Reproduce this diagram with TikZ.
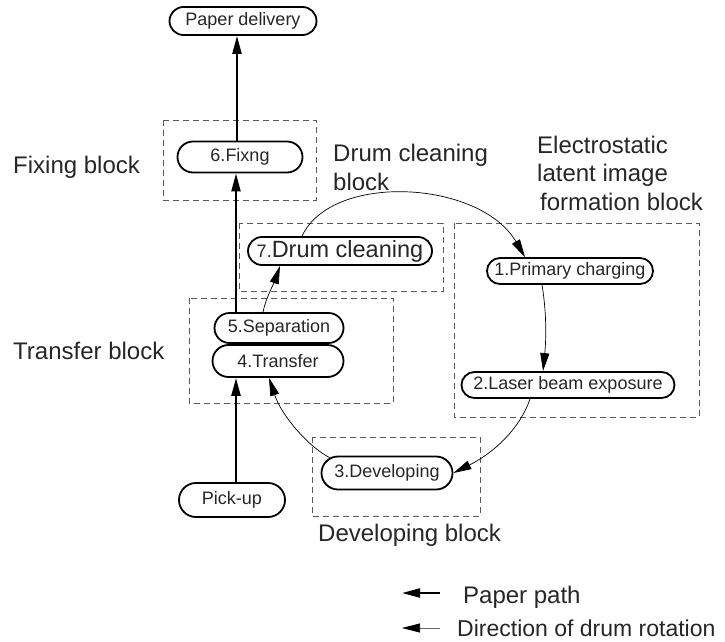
\documentclass[tikz,border=0pt]{standalone}
\usepackage{fontspec}
\setmainfont{Liberation Sans}
\usetikzlibrary{shapes.misc,arrows.meta}

\begin{document}
\begin{tikzpicture}[x=1pt,y=1pt,
    etapa/.style={draw, rounded rectangle, line width=1.8pt, inner xsep=0pt, inner ysep=0pt,
      font=\fontsize{18}{21}\selectfont, text=black!85},
    bloco/.style={draw=black!65, line width=0.9pt, dash pattern=on 6pt off 4pt},
    rotulo/.style={font=\fontsize{24}{28.5}\selectfont, text=black!85, align=left, inner sep=0pt},
    papel/.style={line width=2.2pt, -{Triangle[length=18pt,width=9pt]}},
    tambor/.style={line width=0.7pt, -{Triangle[length=18pt,width=9pt]}}]

  \useasboundingbox (0,0) rectangle (725,-642);

  % Blocos
  \draw[bloco] (163,-120) rectangle (316,-200);
  \draw[bloco] (239,-223) rectangle (443,-291);
  \draw[bloco] (454,-223) rectangle (699,-417);
  \draw[bloco] (189,-298) rectangle (393,-403);
  \draw[bloco] (312,-437) rectangle (480,-516);

  % Etapas
  \node[etapa, minimum width=147, minimum height=28] (entrega) at (243,-21) {Paper delivery};
  \node[etapa, minimum width=125, minimum height=31] (fix) at (240,-157) {6.Fixng};
  \node[etapa, minimum width=184, minimum height=28] (limp) at (340,-251)
    {7.{\fontsize{23.5}{28}\selectfont Drum cleaning}};
  \node[etapa, minimum width=166, minimum height=26] (prim) at (570,-271) {1.Primary charging};
  \node[etapa, minimum width=213, minimum height=26] (laser) at (568,-385) {2.Laser beam exposure};
  \node[etapa, minimum width=131, minimum height=33] (dev) at (387,-473) {3.Developing};
  \node[etapa, minimum width=129, minimum height=30] (sep) at (279,-328) {5.Separation};
  \node[etapa, minimum width=131, minimum height=32] (transf) at (278,-361) {4.Transfer};
  \node[etapa, minimum width=106, minimum height=34] (pick) at (232,-500) {Pick-up};

  % Nomes dos blocos
  \node[rotulo, anchor=base west] (lfix) at (13,-173) {Fixing block};
  \node[rotulo, anchor=base west] (ltransf) at (13,-359) {Transfer block};
  \node[rotulo, anchor=base west] (llimp) at (333,-190) {Drum cleaning\\block};
  \node[rotulo, anchor=base west] (lelet) at (537,-210)
    {Electrostatic\\latent image\\\hspace{3pt}formation block};
  \node[rotulo, anchor=base west] (ldev) at (318,-541) {Developing block};

  % Caminho do papel
  \draw[papel] ([xshift=4pt]pick.north) -- ([xshift=4pt]pick.north |- transf.south);
  \draw[papel] ([xshift=4pt]pick.north |- sep.north) -- ([xshift=4pt]pick.north |- fix.south);
  \draw[papel] ([xshift=-3pt]fix.north) -- ([xshift=-3pt]fix.north |- entrega.south);

  % Rotacao do tambor
  \draw[tambor] ([xshift=-38pt]limp.north) .. controls +(30,64) and +(-45,77) .. ([xshift=-45pt]prim.north);
  \draw[tambor] ([xshift=-28pt]prim.south) .. controls +(5,-30) and +(3,30) .. ([xshift=-25pt]laser.north);
  \draw[tambor] ([xshift=-38pt]laser.south) .. controls +(-10,-30) and +(40,20) .. (dev.east);
  \draw[tambor] (dev.165) .. controls +(-20,10) and +(13,-39) .. ([xshift=-9pt]transf.south);
  \draw[tambor] ([xshift=-16pt]sep.north) .. controls +(3,15) and +(-5,-15) .. ([xshift=-60pt]limp.south);
  \draw[line width=0.7pt] ([xshift=-16pt]sep.south) -- ([xshift=-16pt]sep.south |- transf.north);

  % Legenda
  \node[rotulo, anchor=base west] (lpapel) at (463,-603) {Paper path};
  \node[rotulo, anchor=base west, font=\fontsize{23}{27}\selectfont] (ltambor) at (457,-636)
    {Direction of drum rotation};
  \coordinate (ppta) at (402,-593);
  \coordinate (ptam) at (402,-628);
  \draw[papel] ([xshift=-23pt]lpapel.west |- ppta) -- (ppta);
  \draw[line width=0.7pt, draw=black!60, -{Triangle[length=18pt,width=9pt,black]}]
    ([xshift=-17pt]ltambor.west |- ptam) -- (ptam);

\end{tikzpicture}
\end{document}
